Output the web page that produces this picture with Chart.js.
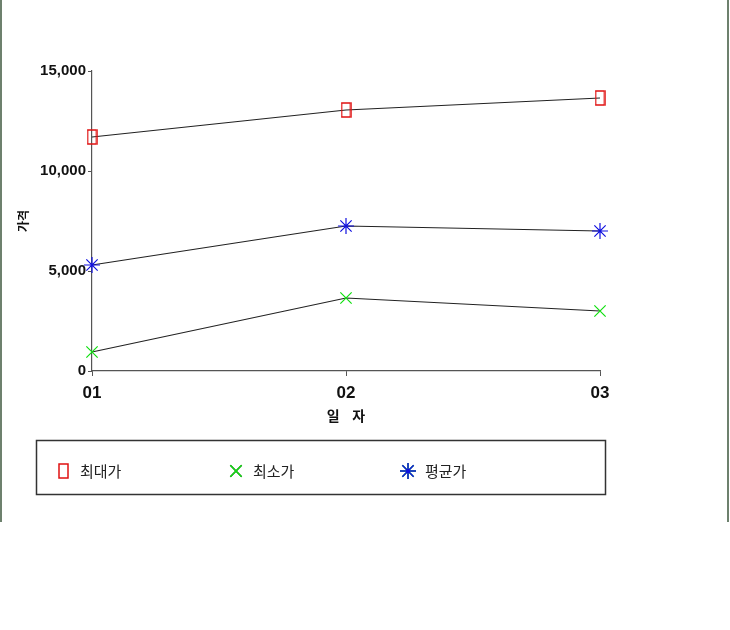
<!DOCTYPE html>
<html>
<head>
<meta charset="utf-8">
<script src="https://cdn.jsdelivr.net/npm/chart.js@4"></script>
<style>
  body { margin: 0; background: #fff; }
</style>
</head>
<body>
<canvas id="chart" width="730" height="630"></canvas>
<script>
const days = ["01", "02", "03"];
const seriesNames = ["최대가", "최소가", "평균가"];
const maxPrice = [11700, 13050, 13650];
const minPrice = [950, 3650, 3000];
const avgPrice = [5300, 7250, 7000];
const markerColors = ["#e01010", "#10e010", "#1010e0"];

const numFont = '"Liberation Sans", Arial, sans-serif';

// tall open square used for the max series
function tallSquare(color) {
    const c = document.createElement("canvas");
    c.width = 11;
    c.height = 16;
    const g = c.getContext("2d");
    g.strokeStyle = color;
    g.lineWidth = 1.5;
    g.strokeRect(1, 1, 9, 14);
    return c;
}
const squareMark = tallSquare(markerColors[0]);

const frameAndLegend = {
    id: "frameAndLegend",
    afterDraw(chart) {
        const ctx = chart.ctx;
        ctx.save();
        // window frame lines
        ctx.strokeStyle = "#6d816d";
        ctx.lineWidth = 2;
        ctx.beginPath();
        ctx.moveTo(1, 0); ctx.lineTo(1, 522);
        ctx.moveTo(728, 0); ctx.lineTo(728, 522);
        ctx.stroke();

        // legend box
        ctx.strokeStyle = "#333";
        ctx.lineWidth = 1.5;
        ctx.strokeRect(36.5, 440.5, 569, 54);

        const xs = [63, 236, 408];
        const y = 471;
        ctx.font = '15px "Noto Sans CJK KR", sans-serif';
        ctx.fillStyle = "#222";
        ctx.textBaseline = "middle";
        seriesNames.forEach((name, i) => {
            const ds = chart.data.datasets[i];
            if (i === 0) {
                ctx.drawImage(squareMark, xs[i] - 5, y - 8);
            } else {
                Chart.helpers.drawPoint(ctx, {
                    pointStyle: ds.pointStyle,
                    radius: 8,
                    borderWidth: 1.2,
                    rotation: 0
                }, xs[i], y);
                ctx.strokeStyle = markerColors[i];
                ctx.stroke();
            }
            ctx.fillText(name, xs[i] + 17, y);
        });
        ctx.restore();
    }
};

new Chart(document.getElementById("chart"), {
    type: "line",
    plugins: [frameAndLegend],
    data: {
        labels: days,
        datasets: [
            {
                label: seriesNames[0],
                data: maxPrice,
                pointStyle: squareMark,
            },
            {
                label: seriesNames[1],
                data: minPrice,
                pointStyle: "crossRot",
            },
            {
                label: seriesNames[2],
                data: avgPrice,
                pointStyle: "star",
            },
        ].map((ds, i) => Object.assign(ds, {
            borderColor: "#222",
            borderWidth: 1.2,
            pointBorderColor: markerColors[i],
            pointBackgroundColor: "transparent",
            pointBorderWidth: 1.2,
            pointRadius: 8,
            tension: 0,
        })),
    },
    options: {
        responsive: false,
        animation: false,
        layout: {
            padding: { left: 0, right: 130, top: 71, bottom: 202 },
        },
        plugins: {
            legend: { display: false },
            tooltip: { enabled: false },
        },
        scales: {
            x: {
                offset: false,
                afterFit: (s) => { s.height = 57; },
                grid: { drawOnChartArea: false, tickLength: 5, color: "#555" },
                border: { color: "#555", width: 1.2 },
                ticks: {
                    padding: 7,
                    color: "#111",
                    font: { family: numFont, size: 17, weight: "bold" },
                    maxRotation: 0,
                },
                title: {
                    display: true,
                    text: "일    자",
                    color: "#111",
                    font: { family: '"Noto Sans CJK KR", sans-serif', size: 14, weight: "bold" },
                },
            },
            y: {
                min: 0,
                max: 15000,
                afterFit: (s) => { s.width = 92; },
                grid: { drawOnChartArea: false, tickLength: 4, color: "#555" },
                border: { color: "#555", width: 1.2 },
                ticks: {
                    stepSize: 5000,
                    padding: 2,
                    color: "#111",
                    font: { family: numFont, size: 15, weight: "bold" },
                    callback: (v) => v.toLocaleString("en-US"),
                },
                title: {
                    display: true,
                    text: "가격",
                    color: "#111",
                    padding: { top: 16, bottom: 0 },
                    font: { family: '"Noto Sans CJK KR", sans-serif', size: 12, weight: "bold" },
                },
            },
        },
    },
});
</script>
</body>
</html>
